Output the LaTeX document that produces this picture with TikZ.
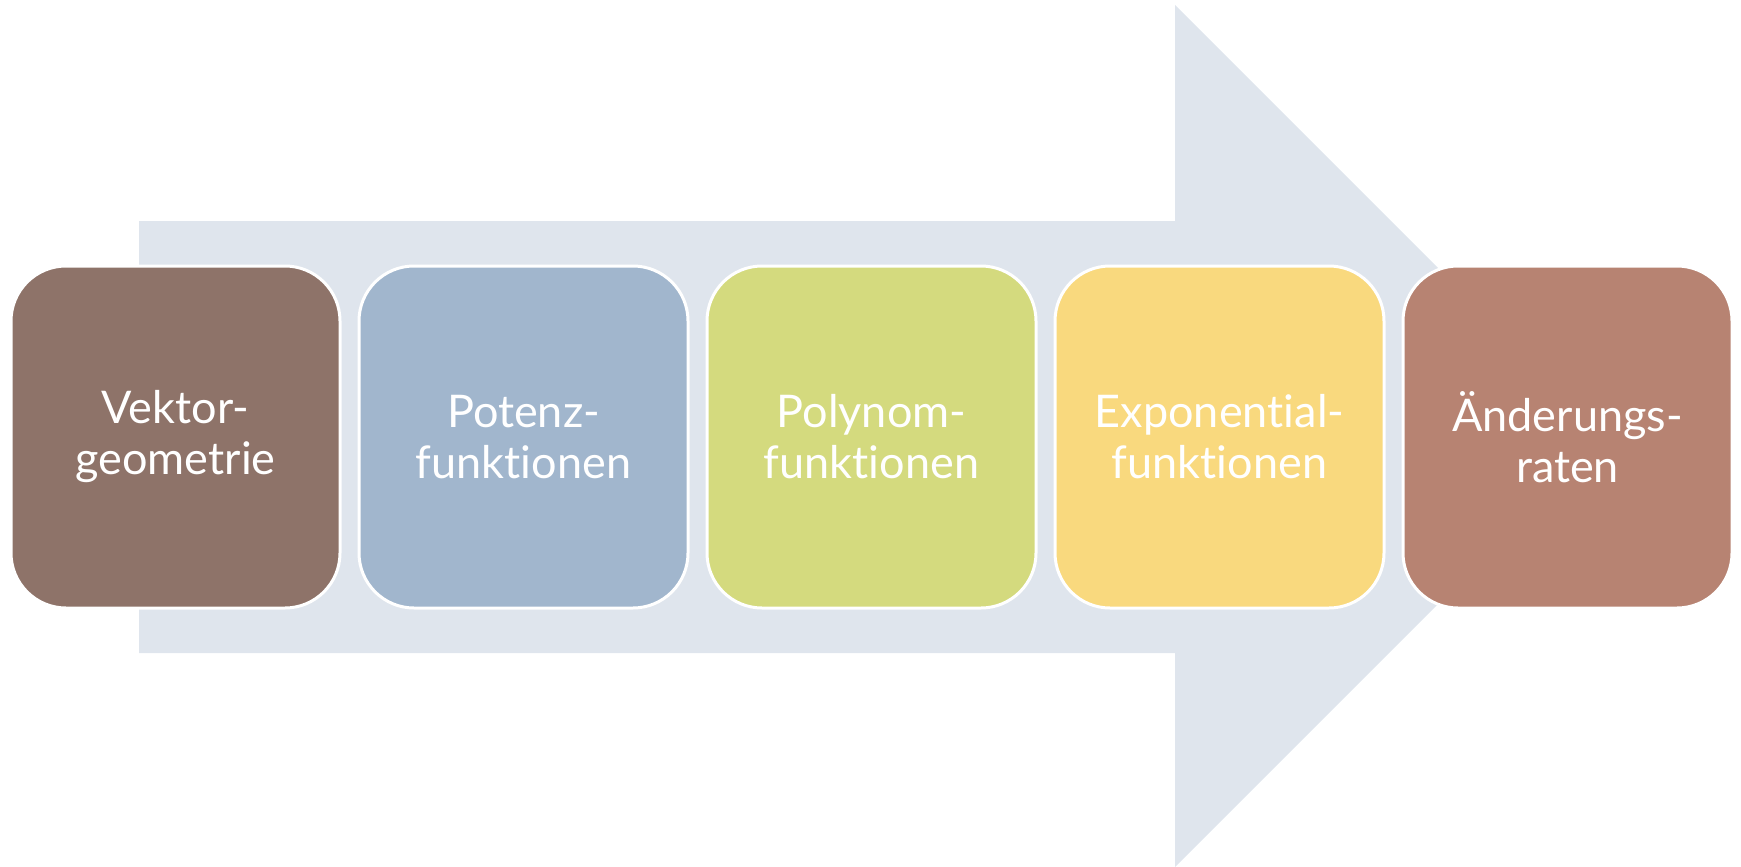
\documentclass[tikz,border=0pt]{standalone}
\usepackage{fontspec}
\setmainfont{Lato}[Ligatures=NoCommon]
\usepackage{xcolor}
\usepackage{tikz}
\usetikzlibrary{positioning}
\definecolor{arrowgray}{RGB}{223, 229, 237}
\definecolor{vekbrown}{RGB}{142, 115, 105}
\definecolor{potblue}{RGB}{161, 182, 205}
\definecolor{polgreen}{RGB}{212, 218, 126}
\definecolor{expyellow}{RGB}{249, 217, 126}
\definecolor{aendred}{RGB}{183, 131, 114}
\tikzset{
    roundnode/.style = {draw=white, line width=3pt, rectangle, rounded corners=55pt, 
      minimum width=329pt, minimum height=342pt, inner sep=0pt, text=white,
      font=\fontsize{45}{51}\selectfont},
    every text node part/.style={align=center}
}

\begin{document}
\begin{tikzpicture}[x=1pt, y=-1pt]
    \useasboundingbox (0,0) rectangle (1741,867);
    % big background arrow
    \fill[arrowgray] (139,221) -- (1175,221) -- (1175,5) -- (1606,436) -- (1175,867) 
        -- (1175,653) -- (139,653) -- cycle;

    \node [name = V, roundnode, fill=vekbrown] at (175.5,437) {Vektor-\\geometrie};
    \node [name = P, roundnode, fill=potblue, right = 16pt of V] {Potenz-\\funktionen};
    \node [name = Pol, roundnode, fill=polgreen, right = 16pt of P] {Polynom-\\funktionen};
    \node [name = E, roundnode, fill=expyellow, right = 16pt of Pol] {Exponential-\\funktionen};
    \node [name = A, roundnode, fill=aendred, right = 16pt of E] {Änderungs-\\raten};
\end{tikzpicture}
\end{document}
